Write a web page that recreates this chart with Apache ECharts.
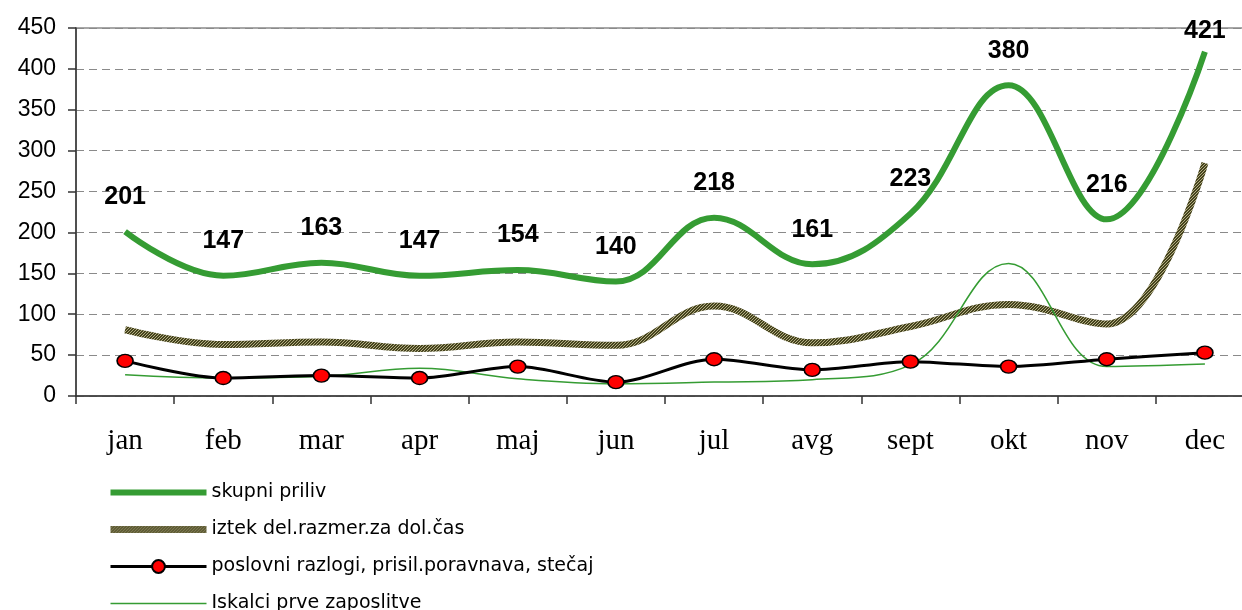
<!DOCTYPE html>
<html>
<head>
<meta charset="utf-8">
<script src="https://cdn.jsdelivr.net/npm/echarts@6/dist/echarts.min.js"></script>
<style>
  html, body { margin: 0; padding: 0; background: #fff; }
  #chart { width: 1242px; height: 610px; }
</style>
</head>
<body>
<div id="chart"></div>
<script>
// mesečni podatki
const months = ['jan', 'feb', 'mar', 'apr', 'maj', 'jun', 'jul', 'avg', 'sept', 'okt', 'nov', 'dec'];
const skupniPriliv = [201, 147, 163, 147, 154, 140, 218, 161, 223, 380, 216, 421];
const iztekDelRazmer = [81, 63, 66, 58, 66, 62, 110, 65, 85, 112, 88, 285];
const poslovniRazlogi = [43, 22, 25, 22, 36, 17, 45, 32, 42, 36, 45, 53];
const iskalciPrve = [26, 22, 24, 34, 21, 15, 17, 20, 38, 162, 36, 39];
const yTicks = [0, 50, 100, 150, 200, 250, 300, 350, 400, 450];

const names = [
    'skupni priliv',
    'iztek del.razmer.za dol.čas',
    'poslovni razlogi, prisil.poravnava, stečaj',
    'Iskalci prve zaposlitve'
];

// vzorec za "pikčasto" rjavo črto
function makePattern() {
    const c = document.createElement('canvas');
    c.width = 3;
    c.height = 3;
    const ctx = c.getContext('2d');
    ctx.fillStyle = '#45431e';
    ctx.fillRect(0, 0, 3, 3);
    ctx.fillStyle = '#b3ae82';
    ctx.fillRect(0, 0, 1, 1);
    ctx.fillRect(2, 1, 1, 1);
    ctx.fillRect(1, 2, 1, 1);
    return c;
}

const chart = echarts.init(document.getElementById('chart'));
const brown = { image: makePattern(), repeat: 'repeat' };
const green = '#359c33';

const option = {
    animation: false,
    backgroundColor: '#fff',
    grid: {
        left: 76,
        top: 28,
        width: 1178,
        height: 368,
        show: true,
        borderColor: '#8a8a8a',
        borderWidth: 1.5,
        containLabel: false,
        outerBoundsMode: 'none'
    },
    legend: {
        orient: 'vertical',
        left: 107,
        top: 483,
        height: 200,
        padding: 0,
        itemWidth: 96,
        itemHeight: 16,
        itemGap: 18,
        data: [
            { name: names[0], lineStyle: { width: 6 }, itemStyle: { opacity: 0 } },
            { name: names[1], lineStyle: { width: 7 }, itemStyle: { opacity: 0 } },
            { name: names[2], lineStyle: { width: 3 } },
            { name: names[3], lineStyle: { width: 1.5 }, itemStyle: { opacity: 0 } }
        ],
        textStyle: {
            fontFamily: 'DejaVu Sans',
            fontSize: 19,
            color: '#000'
        }
    },
    xAxis: {
        type: 'category',
        data: months,
        boundaryGap: true,
        axisLine: { lineStyle: { color: '#333', width: 1.5 } },
        axisTick: { show: true, length: 8, lineStyle: { color: '#333', width: 1.5 } },
        axisLabel: {
            margin: 31,
            fontFamily: 'Liberation Serif',
            fontSize: 29,
            color: '#000'
        },
        splitLine: { show: false }
    },
    yAxis: {
        type: 'value',
        min: yTicks[0],
        max: yTicks[yTicks.length - 1],
        interval: yTicks[1] - yTicks[0],
        axisLine: { show: true, lineStyle: { color: '#333', width: 1.5 } },
        axisTick: { show: true, length: 8, lineStyle: { color: '#333', width: 1.5 } },
        axisLabel: {
            margin: 20,
            fontFamily: 'Liberation Sans',
            fontSize: 23,
            color: '#000'
        },
        splitLine: {
            show: true,
            lineStyle: { color: '#8a8a8a', type: [8, 5], width: 1.2 }
        }
    },
    series: [
        {
            name: names[1],
            type: 'line',
            data: iztekDelRazmer,
            smooth: 0.4,
            symbol: 'none',
            lineStyle: { width: 7, color: brown },
            itemStyle: { color: '#5a5730' },
            z: 2
        },
        {
            name: names[0],
            type: 'line',
            data: skupniPriliv.map((v, i) => ({
                value: v,
                label: i === 11 ? { distance: 8 } : undefined
            })),
            smooth: 0.4,
            symbol: 'circle',
            symbolSize: 0.1,
            showSymbol: true,
            itemStyle: { color: green },
            lineStyle: { width: 6, color: green },
            label: {
                show: true,
                position: 'top',
                distance: 22,
                fontFamily: 'Liberation Sans',
                fontWeight: 'bold',
                fontSize: 25,
                color: '#000'
            },
            z: 3
        },
        {
            name: names[3],
            type: 'line',
            data: iskalciPrve,
            smooth: 0.4,
            symbol: 'none',
            lineStyle: { width: 1.5, color: green },
            itemStyle: { color: green },
            z: 4
        },
        {
            name: names[2],
            type: 'line',
            data: poslovniRazlogi,
            smooth: 0.3,
            symbol: 'circle',
            symbolSize: [16, 13],
            lineStyle: { width: 3, color: '#000' },
            itemStyle: { color: '#ff0000', borderColor: '#000', borderWidth: 1.5 },
            z: 5
        }
    ]
};

chart.setOption(option);
</script>
</body>
</html>
